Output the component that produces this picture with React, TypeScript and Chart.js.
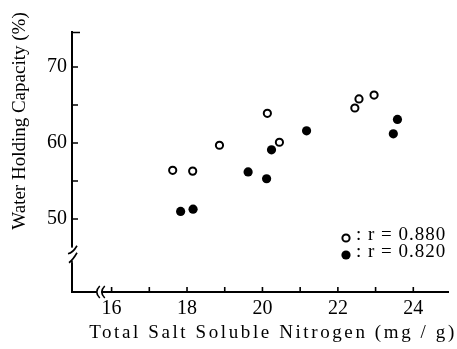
import React, { useEffect, useRef } from "react";
import { Chart, registerables } from "chart.js";

Chart.register(...registerables);

// ---- data ----
const openNitrogen = [17.62, 18.15, 18.86, 20.13, 20.45, 22.45, 22.56, 22.96];
const openWHC = [56.4, 56.3, 59.7, 63.9, 60.1, 64.6, 65.8, 66.3];
const filledNitrogen = [17.83, 18.16, 19.62, 20.11, 20.24, 21.17, 23.47, 23.58];
const filledWHC = [51.0, 51.3, 56.2, 55.3, 59.1, 61.6, 61.2, 63.1];
const xLabelTicks = [16, 18, 20, 22, 24];
const xMarkTicks = [16, 17, 18, 19, 20, 21, 22, 23, 24];
const yLabelTicks = [50, 60, 70];
const yMarkTicks = [50, 55, 60, 65, 70];
const legendTexts = [": r = 0.880", ": r = 0.820"];
const xTitleText = "Total Salt Soluble Nitrogen (mg / g)";
const yTitleText = "Water Holding Capacity (%)";

const X_MIN = 14.95;
const X_MAX = 24.92;
const Y_MIN = 40.4;
const Y_MAX = 74.6;
const X_BREAK = 15.66;
const Y_BREAK = 45.3;

const FONT = "'Liberation Serif', 'DejaVu Serif', serif";

const decor = {
  id: "decor",
  afterDraw(chart: any) {
    const { ctx, chartArea: ca, scales } = chart;
    const x = scales.x;
    const y = scales.y;
    ctx.save();
    ctx.strokeStyle = "#000";
    ctx.fillStyle = "#000";
    ctx.lineWidth = 1.6;

    // inward tick marks
    ctx.beginPath();
    xMarkTicks.forEach((v) => {
      const px = x.getPixelForValue(v);
      ctx.moveTo(px, ca.bottom);
      ctx.lineTo(px, ca.bottom - 5);
    });
    yMarkTicks.forEach((v) => {
      const py = y.getPixelForValue(v);
      ctx.moveTo(ca.left, py);
      ctx.lineTo(ca.left + 6, py);
    });
    ctx.moveTo(ca.left - 1, ca.top + 0.5);
    ctx.lineTo(ca.left + 8, ca.top + 0.5);
    ctx.stroke();

    // y axis break
    const yb = y.getPixelForValue(Y_BREAK);
    const cx = ca.left;
    ctx.fillStyle = "#fff";
    ctx.fillRect(cx - 3, yb - 8, 6, 16);
    ctx.beginPath();
    ctx.moveTo(cx, yb - 9);
    ctx.lineTo(cx, yb - 7);
    ctx.moveTo(cx + 5, yb - 9);
    ctx.quadraticCurveTo(cx + 1, yb - 2, cx - 4, yb - 1);
    ctx.moveTo(cx + 5, yb - 2);
    ctx.quadraticCurveTo(cx + 1, yb + 5, cx - 3, yb + 8);
    ctx.moveTo(cx, yb + 6);
    ctx.lineTo(cx, yb + 9);
    ctx.stroke();

    // x axis break
    const xb = x.getPixelForValue(X_BREAK);
    const by = ca.bottom;
    ctx.fillStyle = "#fff";
    ctx.fillRect(xb - 2, by - 2, 5, 4);
    ctx.beginPath();
    ctx.moveTo(xb + 1, by - 6);
    ctx.quadraticCurveTo(xb - 5, by, xb + 1, by + 6);
    ctx.moveTo(xb + 6, by - 6);
    ctx.quadraticCurveTo(xb, by, xb + 6, by + 6);
    ctx.stroke();

    // legend
    const lx = 346;
    const ly = [238, 255];
    ctx.lineWidth = 2;
    ctx.beginPath();
    ctx.arc(lx, ly[0], 3.6, 0, Math.PI * 2);
    ctx.fillStyle = "#fff";
    ctx.fill();
    ctx.stroke();
    ctx.beginPath();
    ctx.arc(lx, ly[1], 4.6, 0, Math.PI * 2);
    ctx.fillStyle = "#000";
    ctx.fill();
    ctx.fillStyle = "#000";
    ctx.font = `19px ${FONT}`;
    (ctx as any).letterSpacing = "1px";
    ctx.textAlign = "left";
    ctx.textBaseline = "middle";
    legendTexts.forEach((t, i) => ctx.fillText(t, 356, ly[i] - 3));

    // axis titles
    ctx.font = `19px ${FONT}`;
    (ctx as any).letterSpacing = "2.6px";
    ctx.textAlign = "center";
    ctx.textBaseline = "middle";
    ctx.fillText(xTitleText, 273, 333);

    (ctx as any).letterSpacing = "0px";
    ctx.font = `19px ${FONT}`;
    ctx.translate(20, 121);
    ctx.rotate(-Math.PI / 2);
    ctx.fillText(yTitleText, 0, 0);
    ctx.restore();
  },
};

export default function App() {
  const ref = useRef<HTMLCanvasElement | null>(null);

  useEffect(() => {
    if (!ref.current) return;
    const chart = new Chart(ref.current, {
      type: "scatter",
      data: {
        datasets: [
          {
            label: "open",
            data: openNitrogen.map((v, i) => ({ x: v, y: openWHC[i] })),
            pointStyle: "circle",
            pointRadius: 3.6,
            pointBorderWidth: 2,
            borderColor: "#000",
            backgroundColor: "#fff",
          },
          {
            label: "filled",
            data: filledNitrogen.map((v, i) => ({ x: v, y: filledWHC[i] })),
            pointStyle: "circle",
            pointRadius: 4.6,
            pointBorderWidth: 0,
            borderColor: "#000",
            backgroundColor: "#000",
          },
        ],
      },
      options: {
        animation: false,
        responsive: false,
        devicePixelRatio: 1,
        layout: { padding: { left: 0, right: 9, top: 32, bottom: 0 } },
        plugins: {
          legend: { display: false },
          tooltip: { enabled: false },
        },
        scales: {
          x: {
            type: "linear",
            position: "bottom",
            min: X_MIN,
            max: X_MAX,
            grid: { display: false, drawTicks: false },
            border: { display: true, color: "#000", width: 2 },
            ticks: {
              color: "#000",
              font: { family: FONT, size: 20 },
              padding: 5,
              maxRotation: 0,
            },
            afterBuildTicks: (scale: any) => {
              scale.ticks = xLabelTicks.map((v) => ({ value: v }));
            },
            afterFit: (scale: any) => {
              scale.height = 57;
            },
          },
          y: {
            type: "linear",
            position: "left",
            min: Y_MIN,
            max: Y_MAX,
            grid: { display: false, drawTicks: false },
            border: { display: true, color: "#000", width: 2 },
            ticks: {
              color: "#000",
              font: { family: FONT, size: 20 },
              padding: 5,
            },
            afterBuildTicks: (scale: any) => {
              scale.ticks = yLabelTicks.map((v) => ({ value: v }));
            },
            afterFit: (scale: any) => {
              scale.width = 72;
            },
          },
        },
      },
      plugins: [decor],
    });
    return () => chart.destroy();
  }, []);

  return (
    <div style={{ position: "absolute", left: 0, top: 0, width: 457, height: 349 }}>
      <canvas ref={ref} width={457} height={349} />
    </div>
  );
}
